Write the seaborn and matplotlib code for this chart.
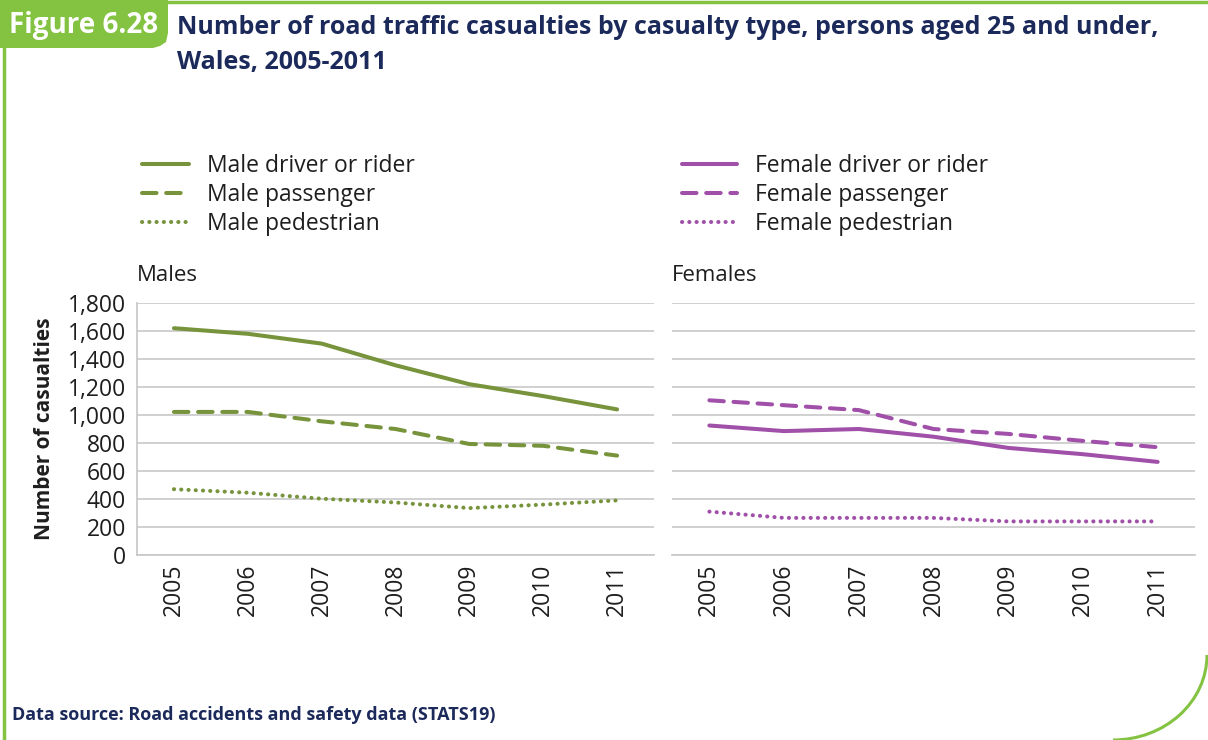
import numpy as np
import pandas as pd
import seaborn as sns
import matplotlib.pyplot as plt
from matplotlib.lines import Line2D
from matplotlib.patches import Polygon, Arc
from matplotlib.ticker import FuncFormatter

sns.set_theme(style="white")
plt.rcParams["font.family"] = ["Open Sans", "DejaVu Sans"]

# Datos
years = [2005, 2006, 2007, 2008, 2009, 2010, 2011]
casualty_types = ["driver or rider", "passenger", "pedestrian"]

male_driver = [1620, 1580, 1510, 1355, 1220, 1135, 1040]
male_passenger = [1022, 1022, 955, 900, 793, 780, 710]
male_pedestrian = [470, 445, 402, 375, 335, 360, 390]

female_driver = [925, 885, 900, 845, 765, 720, 665]
female_passenger = [1105, 1070, 1035, 900, 865, 815, 770]
female_pedestrian = [310, 265, 265, 265, 240, 240, 240]

GREEN = "#77933C"
PURPLE = "#A050A8"
FRAME = "#84C341"
NAVY = "#1B2A5A"
TEXT = "#1E1E1E"

W, H = 1208, 740
FS = 16.5


def build_frame(values, sex):
    rows = []
    for ctype, series in zip(casualty_types, values):
        for y, v in zip(years, series):
            rows.append({"year": y, "type": ctype, "casualties": v, "sex": sex})
    return pd.DataFrame(rows)


males = build_frame([male_driver, male_passenger, male_pedestrian], "Male")
females = build_frame([female_driver, female_passenger, female_pedestrian], "Female")

dashes = {"driver or rider": "", "passenger": (3.6, 2.4), "pedestrian": (0.05, 1.75)}

fig = plt.figure(figsize=(W / 100, H / 100), dpi=100)


def px_axes(x0, x1, y0, y1):
    return fig.add_axes([x0 / W, 1 - y1 / H, (x1 - x0) / W, (y1 - y0) / H])


ax_m = px_axes(137, 654, 303, 555)
ax_f = px_axes(672, 1195, 303, 555)

for ax, df, color, title in [(ax_m, males, GREEN, "Males"), (ax_f, females, PURPLE, "Females")]:
    sns.lineplot(data=df, x="year", y="casualties", style="type", dashes=dashes,
                 color=color, linewidth=2.9, legend=False, ax=ax)
    for ln in ax.lines:
        ln.set_dash_capstyle("round")
        ln.set_solid_capstyle("round")
    ax.set_xlim(2004.5, 2011.5)
    ax.set_ylim(0, 1800)
    ax.set_yticks(range(0, 1801, 200))
    ax.set_xticks(years)
    ax.set_xticklabels([str(y) for y in years], rotation=90, fontsize=FS, color=TEXT)
    ax.yaxis.grid(True, color="#C8C8C8", linewidth=1.2)
    ax.set_axisbelow(True)
    ax.tick_params(axis="x", length=0, pad=6)
    ax.tick_params(axis="y", length=0, pad=8)
    for s in ["top", "right"]:
        ax.spines[s].set_visible(False)
    ax.spines["bottom"].set_color("#C8C8C8")
    ax.spines["left"].set_color("#C8C8C8")
    ax.set_xlabel("")
    ax.set_ylabel("")
    ax.text(0, 1.11, title, transform=ax.transAxes, fontsize=16, color=TEXT,
            ha="left", va="center")

ax_m.yaxis.set_major_formatter(FuncFormatter(lambda v, p: f"{int(v):,}"))
ax_m.tick_params(axis="y", labelsize=FS, labelcolor=TEXT)
ax_m.set_ylabel("Number of casualties", fontsize=15, fontweight="bold", color=TEXT)
ax_m.yaxis.set_label_coords(-0.159, 0.5)
ax_f.spines["left"].set_visible(False)
ax_f.set_yticklabels([])

# Leyendas
def handles(color):
    return [Line2D([0], [0], color=color, lw=2.9, linestyle=(0, d) if d else "-",
                   dash_capstyle="round") for d in dashes.values()]

fig.legend(handles(GREEN), ["Male " + t for t in casualty_types], loc="center left",
           bbox_to_anchor=(121 / W, 1 - 195 / H), frameon=False, fontsize=FS,
           handlelength=2.05, handletextpad=0.82, labelspacing=0.21, labelcolor=TEXT)
fig.legend(handles(PURPLE), ["Female " + t for t in casualty_types], loc="center left",
           bbox_to_anchor=(661 / W, 1 - 195 / H), frameon=False, fontsize=FS,
           handlelength=2.4, handletextpad=0.82, labelspacing=0.21, labelcolor=TEXT)

# Marco y cabecera
box = [(0, 0), (168, 0), (168, 33), (166, 42), (160, 46), (153, 48), (0, 48)]
fig.add_artist(Polygon([(x / W, 1 - y / H) for x, y in box], closed=True,
                       facecolor=FRAME, edgecolor="none", transform=fig.transFigure))
fig.add_artist(Line2D([0, 1], [1 - 1.5 / H, 1 - 1.5 / H], color=FRAME, lw=2.5,
                      transform=fig.transFigure))
fig.add_artist(Line2D([4 / W, 4 / W], [0, 1], color=FRAME, lw=2.5, transform=fig.transFigure))
fig.add_artist(Arc((1113 / W, 1 - 655 / H), 2 * 94 / W, 2 * 85 / H, theta1=270, theta2=360,
                   color=FRAME, lw=2.2, transform=fig.transFigure))

fig.text(9 / W, 1 - 25 / H, "Figure 6.28", fontsize=20, fontweight="bold", color="white",
         ha="left", va="center")
fig.text(177 / W, 1 - 27 / H,
         "Number of road traffic casualties by casualty type, persons aged 25 and under,",
         fontsize=18, fontweight="bold", color=NAVY, ha="left", va="center")
fig.text(177 / W, 1 - 63 / H, "Wales, 2005-2011", fontsize=18, fontweight="bold",
         color=NAVY, ha="left", va="center")
fig.text(12 / W, 1 - 715 / H, "Data source: Road accidents and safety data (STATS19)",
         fontsize=13, fontweight="bold", color=NAVY, ha="left", va="center")

fig.savefig("out.png", dpi=100)
